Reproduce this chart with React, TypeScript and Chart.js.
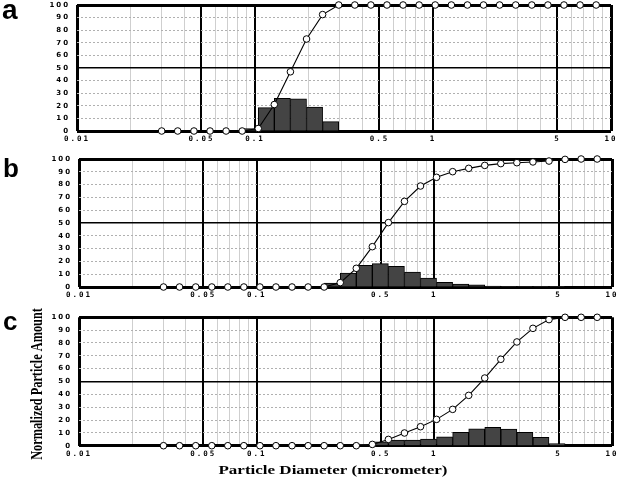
import React, { useEffect, useRef } from 'react';
import { Chart, registerables } from 'chart.js';

Chart.register(...registerables);

// ---------------- data ----------------
const diameters = [
  0.0299, 0.0368, 0.0454, 0.0559, 0.0688, 0.0847, 0.1043, 0.1284, 0.1581, 0.1948,
  0.2398, 0.2954, 0.3637, 0.4477, 0.5513, 0.679, 0.836, 1.029, 1.268, 1.561,
  1.922, 2.367, 2.915, 3.589, 4.42, 5.442, 6.702, 8.253,
];

const cumulativeA = [
  0, 0, 0, 0, 0, 0, 2, 21, 47, 73,
  92.4, 100, 100, 100, 100, 100, 100, 100, 100, 100,
  100, 100, 100, 100, 100, 100, 100, 100,
];
const histogramA = [
  0, 0, 0, 0, 0, 0, 2, 18.5, 26, 25.5,
  19, 7.5, 0, 0, 0, 0, 0, 0, 0, 0,
  0, 0, 0, 0, 0, 0, 0, 0,
];

const cumulativeB = [
  0, 0, 0, 0, 0, 0, 0, 0, 0, 0,
  0, 3.4, 14.6, 31.5, 50.3, 66.9, 78.9, 85.7, 90.1, 92.7,
  95.0, 96.4, 97.1, 97.7, 98.4, 99.7, 100, 100,
];
const histogramB = [
  0, 0, 0, 0, 0, 0, 0, 0, 0, 0,
  0, 3.1, 10.9, 16.9, 18.2, 16.1, 11.7, 7.0, 3.6, 2.3,
  1.6, 0.8, 0.3, 0.2, 0.5, 0.5, 0, 0,
];

const cumulativeC = [
  0, 0, 0, 0, 0, 0, 0, 0, 0, 0,
  0, 0, 0, 1.0, 4.9, 9.9, 14.8, 20.5, 28.3, 39.2,
  52.7, 67.3, 80.8, 91.4, 98.2, 100, 100, 100,
];
const histogramC = [
  0, 0, 0, 0, 0, 0, 0, 0, 0, 0,
  0, 0, 0, 1.0, 3.1, 4.4, 4.4, 5.2, 7.0, 10.4,
  13.2, 14.3, 13.0, 10.4, 6.5, 1.6, 0, 0,
];

const xTickLabels = ['0.01', '0.05', '0.1', '0.5', '1', '5', '10'];
const xMin = 0.01;
const xMax = 10;
const yMin = 0;
const yMax = 100;
const yStep = 10;
const panelLetters = ['a', 'b', 'c'];
const yTitle = 'Normalized Particle Amount';
const xTitle = 'Particle Diameter (micrometer)';

// ---------------- layout / style ----------------
const LAYOUTS = [
  { top: 0, height: 150, pad: { top: 3.3, left: 17, right: 11, bottom: 0 }, yW: 60, xH: 19, letterX: 2, letterY: 18.5, letterSize: 28 },
  { top: 150, height: 157, pad: { top: 9, left: 19, right: 10, bottom: 0 }, yW: 60, xH: 20, letterX: 3, letterY: 177, letterSize: 26 },
  { top: 305, height: 175, pad: { top: 12.3, left: 19, right: 10, bottom: 15.3 }, yW: 60, xH: 19, letterX: 3, letterY: 330, letterSize: 26 },
];

const Y_TICK_FONT = { family: '"DejaVu Sans"', size: 7, weight: 'bold' as const };
const X_TICK_FONT = { family: '"DejaVu Sans Mono"', size: 7.5, weight: 'bold' as const };

function mantissa(v: number) {
  const e = Math.floor(Math.log10(v) + 1e-9);
  return Math.round((v / Math.pow(10, e)) * 1000) / 1000;
}
function isEdge(v: number) {
  return Math.abs(v / xMin - 1) < 1e-6 || Math.abs(v / xMax - 1) < 1e-6;
}
function xGridColor(v: number | undefined) {
  if (v == null) return 'rgba(0,0,0,0)';
  if (isEdge(v)) return '#000';
  const m = mantissa(v);
  if (m === 1 || m === 5) return '#000';
  if (Number.isInteger(m)) return '#cfcfcf';
  return 'rgba(0,0,0,0)';
}
function xGridWidth(v: number | undefined) {
  if (v == null) return 0;
  if (isEdge(v)) return 3;
  const m = mantissa(v);
  if (m === 1 || m === 5) return 2;
  return 1;
}
function labelFor(v: number) {
  const l = xTickLabels.find((s) => Math.abs(Number(s) / v - 1) < 1e-6);
  return l ?? '';
}

function Panel({ index, cum, hist, titles }: { index: number; cum: number[]; hist: number[]; titles: boolean }) {
  const ref = useRef<HTMLCanvasElement | null>(null);
  const layout = LAYOUTS[index];

  useEffect(() => {
    const canvas = ref.current;
    if (!canvas) return;
    const lineData = diameters.map((d, i) => ({ x: d, y: cum[i] }));
    const barData: { x: number; y: number }[] = [];
    for (let i = 1; i < diameters.length; i++) {
      if (hist[i] > 0) barData.push({ x: Math.sqrt(diameters[i - 1] * diameters[i]), y: hist[i] });
    }

    const decor = {
      id: 'decor',
      beforeDraw(chart: any) {
        chart.ctx.letterSpacing = '2px';
      },
      afterDraw(chart: any) {
        const ctx = chart.ctx;
        ctx.save();
        ctx.letterSpacing = '0px';
        ctx.fillStyle = '#000';
        ctx.textAlign = 'left';
        ctx.textBaseline = 'alphabetic';
        ctx.font = `bold ${layout.letterSize}px "Liberation Sans"`;
        ctx.fillText(panelLetters[index], layout.letterX, layout.letterY - layout.top);
        if (titles) {
          ctx.save();
          ctx.translate(42, 384 - layout.top);
          ctx.rotate(-Math.PI / 2);
          ctx.scale(1, 1.35);
          ctx.font = 'bold 12.3px "Liberation Serif"';
          ctx.textAlign = 'center';
          ctx.fillText(yTitle, 0, 0);
          ctx.restore();
          ctx.save();
          ctx.translate(333, 473.5 - layout.top);
          ctx.scale(1.35, 1);
          ctx.font = 'bold 12.6px "Liberation Serif"';
          ctx.textAlign = 'center';
          ctx.fillText(xTitle, 0, 0);
          ctx.restore();
        }
        ctx.restore();
        ctx.letterSpacing = '0px';
      },
    };

    const chart = new Chart(canvas, {
      type: 'bar',
      data: {
        datasets: [
          {
            type: 'line',
            data: lineData,
            order: 0,
            xAxisID: 'x',
            yAxisID: 'y',
            borderColor: '#000',
            borderWidth: 1.1,
            pointRadius: 3.3,
            pointBackgroundColor: '#fff',
            pointBorderColor: '#000',
            pointBorderWidth: 1,
            tension: 0,
            clip: false,
          } as any,
          {
            type: 'bar',
            data: barData,
            order: 1,
            xAxisID: 'x',
            yAxisID: 'y',
            backgroundColor: '#444444',
            borderColor: '#000',
            borderWidth: 1,
            barPercentage: 1,
            categoryPercentage: 1,
          } as any,
        ],
      },
      options: {
        responsive: false,
        animation: false,
        events: [],
        layout: { padding: layout.pad },
        plugins: { legend: { display: false }, tooltip: { enabled: false }, title: { display: false } },
        scales: {
          x: {
            type: 'logarithmic',
            min: xMin,
            max: xMax,
            display: false,
            offset: false,
            afterBuildTicks: (s: any) => {
              s.ticks = [{ value: xMin }, { value: xMax }];
            },
          },
          xg: {
            type: 'logarithmic',
            position: 'bottom',
            min: xMin,
            max: xMax,
            offset: false,
            grid: {
              drawTicks: false,
              offset: false,
              color: (c: any) => xGridColor(c.tick?.value),
              lineWidth: (c: any) => xGridWidth(c.tick?.value),
            },
            border: { display: false },
            ticks: {
              autoSkip: false,
              maxRotation: 0,
              minRotation: 0,
              padding: 4,
              color: '#000',
              font: X_TICK_FONT,
              callback: (v: any) => labelFor(Number(v)),
            },
            afterFit: (s: any) => {
              s.height = layout.xH;
              s.paddingLeft = 0;
              s.paddingRight = 0;
            },
          },
          y: {
            type: 'linear',
            position: 'left',
            min: yMin,
            max: yMax,
            ticks: { stepSize: yStep, padding: 7, color: '#000', font: Y_TICK_FONT },
            grid: {
              drawTicks: false,
              lineWidth: 1,
              color: (c: any) => {
                const v = c.tick?.value;
                return v === 0 || v === 50 || v === 100 ? 'rgba(0,0,0,0)' : '#b0b0b0';
              },
            },
            border: { display: false, dash: [2, 2] },
            afterFit: (s: any) => {
              s.width = layout.yW;
              s.paddingTop = 0;
              s.paddingBottom = 0;
            },
          },
          y2: {
            type: 'linear',
            position: 'right',
            min: yMin,
            max: yMax,
            ticks: { stepSize: 50, display: false },
            grid: {
              drawTicks: false,
              color: '#000',
              lineWidth: (c: any) => (c.tick && c.tick.value === 50 ? 1.5 : 3),
            },
            border: { display: false },
            afterFit: (s: any) => {
              s.width = 0;
              s.paddingTop = 0;
              s.paddingBottom = 0;
            },
          },
        } as any,
      },
      plugins: [decor],
    });
    return () => chart.destroy();
  }, []);

  return (
    <canvas
      ref={ref}
      width={622}
      height={layout.height}
      style={{ position: 'absolute', left: 0, top: layout.top, width: 622, height: layout.height, display: 'block' }}
    />
  );
}

export default function App() {
  return (
    <div style={{ position: 'fixed', left: 0, top: 0, width: 622, height: 480, background: '#fff', overflow: 'hidden' }}>
      <Panel index={0} cum={cumulativeA} hist={histogramA} titles={false} />
      <Panel index={1} cum={cumulativeB} hist={histogramB} titles={false} />
      <Panel index={2} cum={cumulativeC} hist={histogramC} titles={true} />
    </div>
  );
}
